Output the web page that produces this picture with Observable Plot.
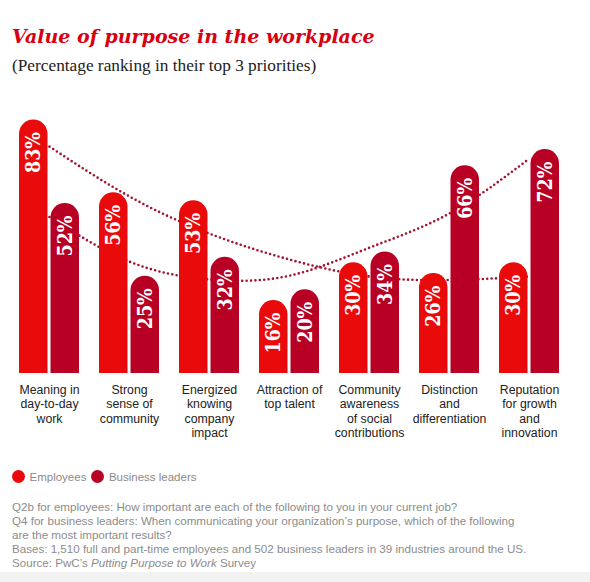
<!DOCTYPE html>
<html>
<head>
<meta charset="utf-8">
<script src="https://cdn.jsdelivr.net/npm/d3@7"></script>
<script src="https://cdn.jsdelivr.net/npm/@observablehq/plot@0.6"></script>
<style>
  html, body { margin: 0; padding: 0; background: #fff; }
  #page { position: relative; width: 590px; height: 582px; overflow: hidden; background: #fff; }
  #title { position: absolute; left: 12px; top: 26px; font-family: "DejaVu Serif", serif; font-weight: bold; font-style: italic; font-size: 19px; line-height: 20px; color: #d7000f; white-space: nowrap; }
  #subtitle { position: absolute; left: 12px; top: 55.7px; font-family: "Liberation Serif", serif; font-size: 17.3px; line-height: 19px; color: #222; white-space: nowrap; }
  #chart { position: absolute; left: 0; top: 80px; }
  #legend { position: absolute; left: 12px; top: 469.7px; font-family: "Liberation Sans", Arial, sans-serif; font-size: 11.5px; line-height: 14px; color: #8a8a8a; display: flex; align-items: center; white-space: nowrap; }
  #legend .sw { display: inline-block; width: 13px; height: 13px; border-radius: 50%; margin-right: 4.5px; }
  #legend .item { display: inline-flex; align-items: center; margin-right: 5px; }
  #notes { position: absolute; left: 12px; top: 499.8px; font-family: "Liberation Sans", Arial, sans-serif; font-size: 11.6px; line-height: 14px; color: #8c8c8c; white-space: nowrap; }
  #band { position: absolute; left: 0; top: 572px; width: 590px; height: 10px; background: #f2f2f2; }
</style>
</head>
<body>
<div id="page">
  <div id="title">Value of purpose in the workplace</div>
  <div id="subtitle">(Percentage ranking in their top 3 priorities)</div>
  <div id="chart"></div>
  <div id="legend"></div>
  <div id="notes">
    Q2b for employees: How important are each of the following to you in your current job?<br>
    Q4 for business leaders: When communicating your organization’s purpose, which of the following<br>
    are the most important results?<br>
    Bases: 1,510 full and part-time employees and 502 business leaders in 39 industries around the US.<br>
    Source: PwC’s <i>Putting Purpose to Work</i> Survey
  </div>
  <div id="band"></div>
</div>
<script>
// ---- data ----
const categories = [
  "Meaning in\nday-to-day\nwork",
  "Strong\nsense of\ncommunity",
  "Energized\nknowing\ncompany\nimpact",
  "Attraction of\ntop talent",
  "Community\nawareness\nof social\ncontributions",
  "Distinction\nand\ndifferentiation",
  "Reputation\nfor growth\nand\ninnovation"
];
const seriesNames = ["Employees", "Business leaders"];
const seriesColors = ["#e90b0b", "#b80024"];
const employees = [83, 56, 53, 16, 30, 26, 30];
const leaders = [52, 25, 32, 20, 34, 66, 72];
// dotted trend curves (value at each category centre)
const employeesTrend = [73.1, 54.6, 40.8, 31.2, 24.9, 23.6, 24.9];
const leadersTrend = [47.0, 30.4, 23.8, 25.2, 35.6, 48.3, 68.7];
const yDomain = [-11.1, 90];
const barFloor = -25;
const dotColor = "#a3122e";

// ---- tables ----
const empRows = categories.map((c, i) => ({cat: c, value: employees[i]}));
const ldrRows = categories.map((c, i) => ({cat: c, value: leaders[i]}));
const empTrendRows = categories.map((c, i) => ({cat: c, value: employeesTrend[i]}));
const ldrTrendRows = categories.map((c, i) => ({cat: c, value: leadersTrend[i]}));

const valueFont = '"DejaVu Serif Condensed", "DejaVu Serif", serif';
const dotted = {curve: "natural", stroke: dotColor, strokeWidth: 2.6, strokeDasharray: "0 4.4", strokeLinecap: "round"};

const chart = Plot.plot({
  width: 590,
  height: 370,
  marginLeft: 17,
  marginRight: 30,
  marginTop: 20.6,
  marginBottom: 77,
  x: {domain: categories, paddingInner: 0.255, paddingOuter: 0, axis: null},
  y: {domain: yDomain, axis: null},
  style: {background: "transparent", overflow: "visible"},
  marks: [
    Plot.line(empTrendRows, {x: "cat", y: "value", ...dotted}),
    Plot.line(ldrTrendRows, {x: "cat", y: "value", ...dotted}),
    Plot.barY(empRows, {x: "cat", y1: barFloor, y2: "value", fill: seriesColors[0], insetRight: 31.5, rx: 14.25, clip: true}),
    Plot.barY(ldrRows, {x: "cat", y1: barFloor, y2: "value", fill: seriesColors[1], insetLeft: 31.5, rx: 14.25, clip: true}),
    Plot.text(empRows, {x: "cat", y: "value", text: d => d.value + "%", rotate: -90, textAnchor: "end", lineAnchor: "middle", dx: -15.75, dy: 12, fill: "white", fontSize: 19.5, fontWeight: "bold", fontFamily: valueFont}),
    Plot.text(ldrRows, {x: "cat", y: "value", text: d => d.value + "%", rotate: -90, textAnchor: "end", lineAnchor: "middle", dx: 15.75, dy: 12, fill: "white", fontSize: 19.5, fontWeight: "bold", fontFamily: valueFont}),
    Plot.text(categories, {x: d => d, text: d => d, frameAnchor: "bottom", lineAnchor: "top", dy: 10, fontSize: 12.3, lineHeight: 1.18, fill: "#222", fontFamily: '"Liberation Sans", Arial, sans-serif'})
  ]
});
document.getElementById("chart").appendChild(chart);

// legend
const legend = document.getElementById("legend");
seriesNames.forEach((name, i) => {
  const item = document.createElement("span");
  item.className = "item";
  const sw = document.createElement("span");
  sw.className = "sw";
  sw.style.background = seriesColors[i];
  item.appendChild(sw);
  item.appendChild(document.createTextNode(name));
  legend.appendChild(item);
});
</script>
</body>
</html>
